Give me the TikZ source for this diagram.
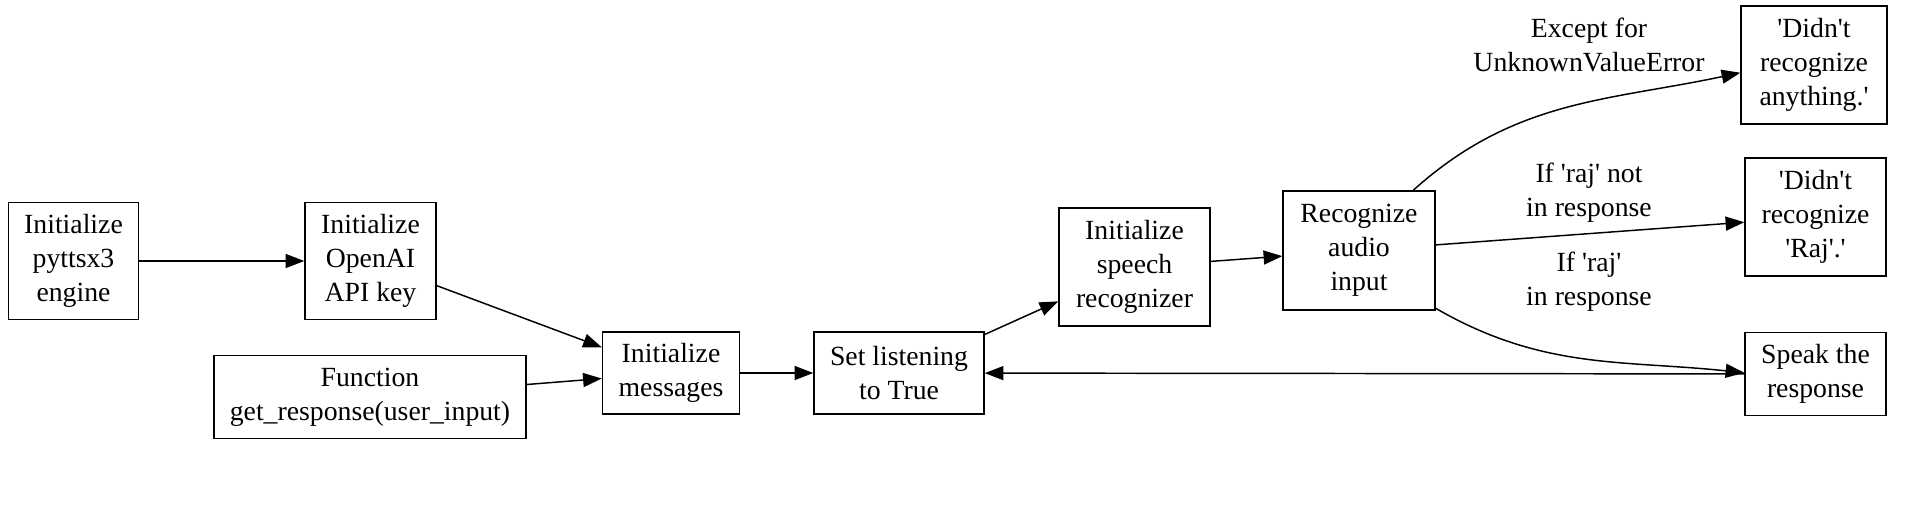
\documentclass[tikz,border=0pt]{standalone}
\usepackage{fontspec}
\setmainfont{Liberation Serif}[Ligatures=TeXOff]
\usepackage{tikz}
\usetikzlibrary{arrows.meta}

\begin{document}
\begin{tikzpicture}[x=0.75pt,y=-0.75pt,>={Triangle[length=14pt,width=10.5pt]},
  box/.style={draw,line width=1.1pt,align=center,inner sep=1pt,font=\fontsize{20.8pt}{25.5pt}\selectfont},
  lbl/.style={align=center,inner sep=0pt,font=\fontsize{20.8pt}{25.5pt}\selectfont},
  flow/.style={->,line width=1.1pt}]
  \useasboundingbox (0,0) rectangle (1905,529);
  \node[box,minimum width=97.5pt,minimum height=87.75pt] (tts) at (73.5,261) {Initialize\\pyttsx3\\engine};
  \node[box,minimum width=98.25pt,minimum height=87.75pt] (key) at (370.5,261) {Initialize\\OpenAI\\API key};
  \node[box,minimum width=234pt,minimum height=62.25pt] (func) at (370,397) {Function\\get\_response(user\_input)};
  \node[box,minimum width=102.75pt,minimum height=61.5pt] (msgs) at (671,373) {Initialize\\messages};
  \node[box,minimum width=127.5pt,minimum height=61.5pt] (listen) at (899,373) {Set listening\\to True};
  \node[box,minimum width=113.25pt,minimum height=88.5pt] (rcgz) at (1134.5,267) {Initialize\\speech\\recognizer};
  \node[box,minimum width=114pt,minimum height=89.25pt] (audio) at (1359,250.5) {Recognize\\audio\\input};
  \node[box,minimum width=109.5pt,minimum height=88.5pt] (noany) at (1814,65) {'Didn't\\recognize\\anything.'};
  \node[box,minimum width=105.75pt,minimum height=88.5pt] (noraj) at (1815.5,217) {'Didn't\\recognize\\'Raj'.'};
  \node[box,minimum width=105.75pt,minimum height=62.25pt] (speak) at (1815.5,374) {Speak the\\response};
  \node[lbl] (lexc) at (1589,45) {Except for\\UnknownValueError};
  \node[lbl] (lnot) at (1589,193) {If 'raj' not\\in response};
  \node[lbl] (lin) at (1589,282) {If 'raj'\\in response};
  \draw[flow] (tts) -- (key);
  \draw[flow] (key) -- (msgs);
  \draw[flow] (func) -- (msgs);
  \draw[flow] (msgs) -- (listen);
  \draw[flow] (listen) -- (rcgz);
  \draw[flow] (rcgz) -- (audio);
  \draw[flow] (audio.48) to[out=42,in=192] (noany.186);
  \draw[flow] (audio) -- (noraj);
  \draw[flow] (audio.-37) to[out=-30,in=174] (speak.179);
  \draw[flow] (speak) -- (listen);
\end{tikzpicture}
\end{document}
